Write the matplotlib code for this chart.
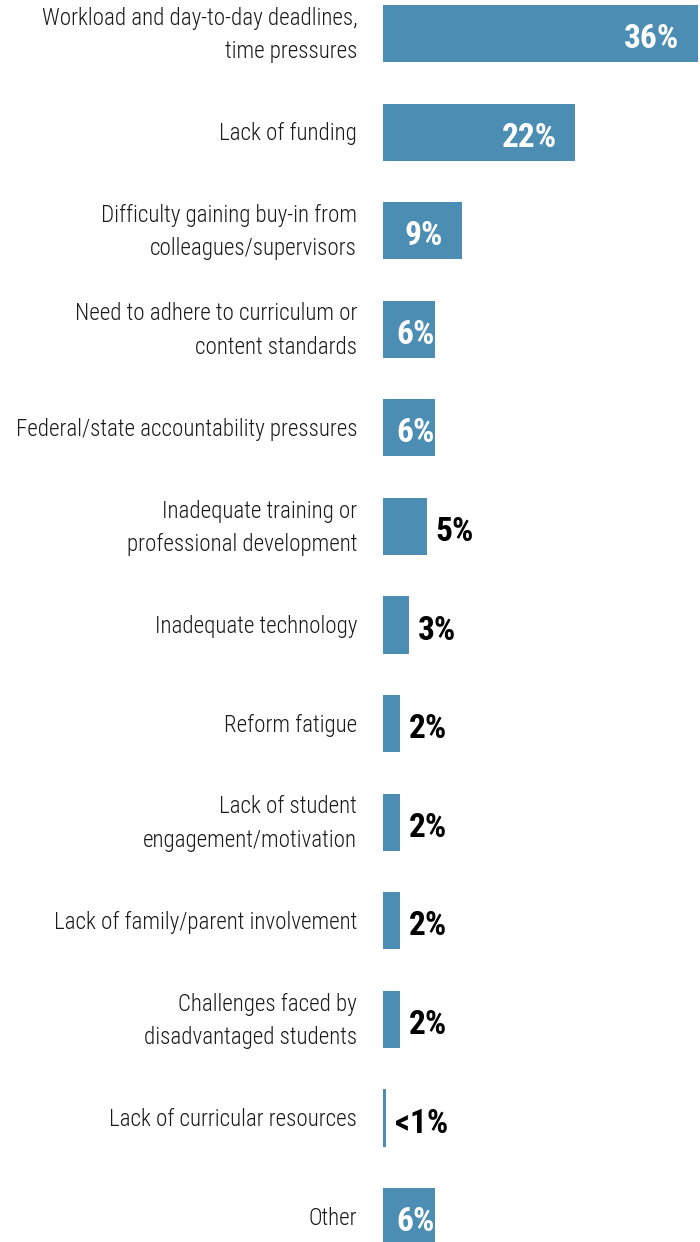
import matplotlib
matplotlib.use("Agg")
import matplotlib.pyplot as plt

# Share of respondents naming each item as the biggest obstacle
categories = [
    "Workload and day-to-day deadlines,\ntime pressures",
    "Lack of funding",
    "Difficulty gaining buy-in from\ncolleagues/supervisors",
    "Need to adhere to curriculum or\ncontent standards",
    "Federal/state accountability pressures",
    "Inadequate training or\nprofessional development",
    "Inadequate technology",
    "Reform fatigue",
    "Lack of student\nengagement/motivation",
    "Lack of family/parent involvement",
    "Challenges faced by\ndisadvantaged students",
    "Lack of curricular resources",
    "Other",
]
values = [36, 22, 9, 6, 6, 5, 3, 2, 2, 2, 2, 0.4, 6]
value_labels = ["36%", "22%", "9%", "6%", "6%", "5%", "3%", "2%", "2%", "2%", "2%", "<1%", "6%"]
inside = [True, True, True, True, True, False, False, False, False, False, False, False, True]

BAR_COLOR = "#4b8db3"
LABEL_FONT = "Roboto Condensed"

fig = plt.figure(figsize=(7, 12.42), dpi=100)
ax = fig.add_axes([0.547, 0.0, 0.453, 1.0])

y = list(range(len(categories)))
ax.barh(y, values, height=0.58, color=BAR_COLOR)

ax.set_xlim(0, 36.23)
ax.set_ylim(12.257, -0.34)
ax.axis("off")

val_style = dict(va="center", fontsize=24, family=LABEL_FONT, fontweight="bold",
                 textcoords="offset points", annotation_clip=False)

for yi, cat, v, lab, ins in zip(y, categories, values, value_labels, inside):
    # category text to the left of the bars
    ax.annotate(cat, xy=(0, yi), xytext=(-18.5, -1), textcoords="offset points",
                ha="right", va="center", fontsize=16.6, family=LABEL_FONT,
                fontweight=300, color="#1a1a1a", linespacing=1.58, annotation_clip=False)
    if ins:
        if v >= 9:
            ax.annotate(lab, xy=(v - 2.1, yi), xytext=(0, -4), ha="right",
                        color="white", **val_style)
        else:
            ax.annotate(lab, xy=(1.5, yi), xytext=(0, -4), ha="left",
                        color="white", **val_style)
    else:
        ax.annotate(lab, xy=(v + 1.0, yi), xytext=(0, -4), ha="left",
                    color="black", **val_style)

fig.savefig("out.png", dpi=100)
